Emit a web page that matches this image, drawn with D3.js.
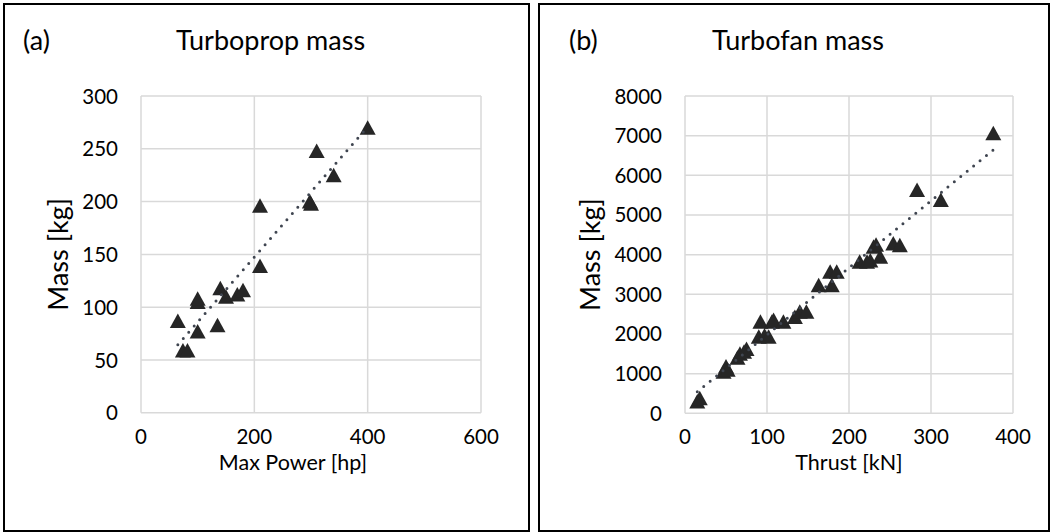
<!DOCTYPE html>
<html>
<head>
<meta charset="utf-8">
<script src="https://cdn.jsdelivr.net/npm/d3@7"></script>
<style>
  body { margin: 0; background: #fff; }
  text { font-family: Lato, "Open Sans", sans-serif; fill: #000; }
</style>
</head>
<body>
<div id="chart"></div>
<script>
// turboprop engines: max power [hp] vs mass [kg]
var propPower = [65, 74, 82, 100, 100, 100, 135, 140, 150, 170, 180, 210, 210, 298, 300, 310, 340, 400];
var propMass  = [87, 59, 59, 77, 105, 108, 83, 118, 110, 112, 116, 139, 196, 200, 198, 248, 225, 270];

// turbofan engines: thrust [kN] vs mass [kg]
var fanThrust = [15, 18, 47, 50, 52, 64, 67, 72, 75, 90, 92, 97, 102, 106, 108, 120, 134, 140, 148,
                 163, 177, 179, 185, 213, 222, 226, 230, 233, 238, 254, 262, 283, 312, 376];
var fanMass   = [300, 380, 1050, 1180, 1100, 1400, 1500, 1550, 1620, 1930, 2310, 1960, 1930, 2310, 2350, 2310, 2430, 2560, 2560,
                 3230, 3570, 3230, 3570, 3820, 3820, 3850, 4200, 4250, 3950, 4280, 4240, 5630, 5380, 7060];

var propXTicks = [0, 200, 400, 600];
var propYTicks = [0, 50, 100, 150, 200, 250, 300];
var fanXTicks = [0, 100, 200, 300, 400];
var fanYTicks = [0, 1000, 2000, 3000, 4000, 5000, 6000, 7000, 8000];

var svg = d3.select('#chart').append('svg').attr('width', 1052).attr('height', 532);

function fit(xs, ys) {
    var mx = d3.mean(xs), my = d3.mean(ys);
    var sxy = d3.sum(xs, function(x, i) { return (x - mx) * (ys[i] - my); });
    var sxx = d3.sum(xs, function(x) { return (x - mx) * (x - mx); });
    var b = sxy / sxx;
    return { b: b, a: my - b * mx };
}

function drawPanel(o) {
    var g = svg.append('g');

    g.append('rect')
        .attr('x', o.box[0]).attr('y', o.box[1])
        .attr('width', o.box[2]).attr('height', o.box[3])
        .attr('fill', 'none').attr('stroke', '#000').attr('stroke-width', 2);

    var x = d3.scaleLinear().domain([o.xTicks[0], o.xTicks[o.xTicks.length - 1]]).range(o.xr);
    var y = d3.scaleLinear().domain([o.yTicks[0], o.yTicks[o.yTicks.length - 1]]).range(o.yr);

    // gridlines
    g.selectAll('.vg').data(o.xTicks).enter().append('line')
        .attr('x1', function(d) { return x(d); }).attr('x2', function(d) { return x(d); })
        .attr('y1', o.yr[0]).attr('y2', o.yr[1])
        .attr('stroke', '#d9d9d9').attr('stroke-width', 1.5);
    g.selectAll('.hg').data(o.yTicks).enter().append('line')
        .attr('x1', o.xr[0]).attr('x2', o.xr[1])
        .attr('y1', function(d) { return y(d); }).attr('y2', function(d) { return y(d); })
        .attr('stroke', '#d9d9d9').attr('stroke-width', 1.5);

    // tick labels
    g.selectAll('.xl').data(o.xTicks).enter().append('text')
        .attr('x', function(d) { return x(d); }).attr('y', o.yr[0] + 31)
        .attr('text-anchor', 'middle').style('font-size', '20.5px')
        .text(function(d) { return d; });
    g.selectAll('.yl').data(o.yTicks).enter().append('text')
        .attr('x', o.xr[0] - 23).attr('y', function(d) { return y(d) + 7.5; })
        .attr('text-anchor', 'end').style('font-size', '20.5px')
        .text(function(d) { return d; });

    // titles
    g.append('text').attr('x', o.tagX).attr('y', 50)
        .style('font-size', '27px').text(o.tag);
    g.append('text').attr('x', o.box[0] + o.box[2] / 2 + 4).attr('y', 50)
        .attr('text-anchor', 'middle').style('font-size', '27px').text(o.title);
    g.append('text').attr('x', o.xTitleX).attr('y', o.yr[0] + 57)
        .attr('text-anchor', 'middle').style('font-size', '21.5px').text(o.xTitle);
    g.append('text')
        .attr('transform', 'translate(' + o.yTitleX + ',' + ((o.yr[0] + o.yr[1]) / 2) + ') rotate(-90)')
        .attr('text-anchor', 'middle').style('font-size', '27px').text('Mass [kg]');

    // markers
    var tri = 'M0,-7.5L8,7L-8,7Z';
    g.selectAll('.pt').data(o.xs).enter().append('path')
        .attr('d', tri)
        .attr('transform', function(d, i) { return 'translate(' + x(d) + ',' + y(o.ys[i]) + ')'; })
        .attr('fill', '#262626');

    // linear trendline
    var f = fit(o.xs, o.ys);
    var x0 = d3.min(o.xs), x1 = d3.max(o.xs);
    g.append('line')
        .attr('x1', x(x0)).attr('y1', y(f.a + f.b * x0))
        .attr('x2', x(x1)).attr('y2', y(f.a + f.b * x1))
        .attr('stroke', '#3f4550').attr('stroke-width', 3)
        .attr('stroke-linecap', 'round').attr('stroke-dasharray', '0 8.3');
}

drawPanel({
    box: [4, 4, 525, 527],
    xr: [141, 481], yr: [412.8, 96],
    xTicks: propXTicks, yTicks: propYTicks,
    xs: propPower, ys: propMass,
    tag: '(a)', tagX: 23, yTitleX: 68, xTitleX: 293,
    title: 'Turboprop mass', xTitle: 'Max Power [hp]'
});

drawPanel({
    box: [539, 4, 510, 527],
    xr: [685, 1013], yr: [413.3, 96],
    xTicks: fanXTicks, yTicks: fanYTicks,
    xs: fanThrust, ys: fanMass,
    tag: '(b)', tagX: 569, yTitleX: 600, xTitleX: 849,
    title: 'Turbofan mass', xTitle: 'Thrust [kN]'
});
</script>
</body>
</html>
